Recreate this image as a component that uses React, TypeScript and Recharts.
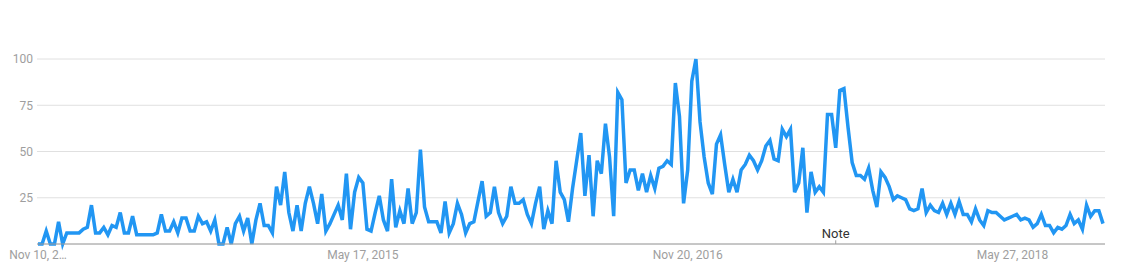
import React from "react";
import { LineChart, Line, XAxis, YAxis, CartesianGrid, ReferenceLine } from "recharts";

// weekly search interest, first week starts Nov 10, 2013
const START_UTC = Date.UTC(2013, 10, 10);
const WEEK_MS = 7 * 24 * 3600 * 1000;

const interest = [
  0, 0, 7, 0, 0, 12, 0, 6, 6, 6, 6, 8, 9, 21, 6, 6, 9, 5, 10, 9,
  17, 6, 6, 15, 5, 5, 5, 5, 5, 6, 16, 7, 7, 12, 6, 14, 14, 7, 7, 15,
  11, 12, 7, 13, 0, 0, 9, 0, 11, 15, 7, 14, 0, 13, 22, 10, 10, 6, 31, 21,
  39, 17, 7, 21, 7, 22, 31, 22, 11, 27, 7, 11, 16, 21, 13, 38, 8, 28, 36, 33,
  8, 7, 17, 26, 13, 7, 35, 9, 18, 11, 30, 11, 17, 51, 20, 12, 12, 12, 6, 23,
  6, 11, 22, 16, 6, 11, 12, 23, 34, 15, 17, 31, 17, 11, 15, 31, 22, 22, 24, 16,
  11, 22, 31, 8, 18, 11, 45, 28, 24, 12, 30, 45, 60, 26, 48, 15, 45, 38, 65, 47,
  15, 82, 78, 33, 40, 40, 29, 38, 28, 37, 30, 41, 42, 45, 43, 87, 69, 22, 40, 88,
  100, 66, 47, 33, 27, 54, 59, 43, 28, 35, 28, 40, 43, 48, 45, 40, 45, 53, 56, 46,
  45, 62, 58, 62, 28, 33, 52, 17, 39, 28, 31, 28, 70, 70, 52, 83, 84, 63, 44, 37,
  37, 35, 41, 29, 20, 39, 36, 31, 24, 26, 25, 24, 19, 18, 19, 30, 17, 21, 18, 17,
  22, 16, 22, 16, 23, 16, 16, 12, 19, 13, 10, 18, 17, 17, 15, 13, 14, 15, 16, 13,
  14, 13, 9, 11, 16, 10, 10, 6, 9, 8, 10, 16, 11, 13, 8, 21, 15, 18, 18, 11,
];

const MONTHS = ["Jan", "Feb", "Mar", "Apr", "May", "Jun", "Jul", "Aug", "Sep", "Oct", "Nov", "Dec"];

const fmtDate = (ms: number) => {
  const d = new Date(ms);
  return `${MONTHS[d.getUTCMonth()]} ${d.getUTCDate()}, ${d.getUTCFullYear()}`;
};

const weeks = interest.map((_, i) => fmtDate(START_UTC + i * WEEK_MS));

const xTicks = ["Nov 10, 2013", "May 17, 2015", "Nov 20, 2016", "May 27, 2018"];
const yTicks = [25, 50, 75, 100];
const noteWeek = weeks[194];

const data = weeks.map((week, i) => ({ week, value: interest[i] }));

const FONT = "Roboto, 'Noto Sans', Arial, sans-serif";

export default function App() {
  return (
    <div style={{ position: "absolute", left: 0, top: 0, background: "#fff" }}>
      <LineChart
        width={1121}
        height={276}
        data={data}
        margin={{ top: 59, right: 16, bottom: 0, left: 0 }}
      >
        <CartesianGrid vertical={false} stroke="#e0e0e0" />
        <XAxis
          dataKey="week"
          ticks={xTicks}
          interval={0}
          height={32}
          padding={{ left: 1, right: 2 }}
          axisLine={{ stroke: "#9e9e9e" }}
          tickLine={false}
          tickSize={4}
          tickMargin={2}
          tick={{ fill: "#9e9e9e", fontSize: 12, fontFamily: FONT }}
          tickFormatter={(v: string) => (v === xTicks[0] ? "Nov 10, 2…" : v)}
        />
        <YAxis
          domain={[0, 100]}
          ticks={yTicks}
          width={37}
          axisLine={false}
          tickLine={false}
          tickSize={2}
          tickMargin={2}
          tick={{ fill: "#9e9e9e", fontSize: 12, fontFamily: FONT }}
        />
        <Line
          type="linear"
          dataKey="value"
          stroke="#2196f3"
          strokeWidth={3.5}
          dot={false}
          activeDot={false}
          isAnimationActive={false}
        />
        <ReferenceLine
          segment={[
            { x: noteWeek, y: 0 },
            { x: noteWeek, y: 2 },
          ]}
          stroke="#9e9e9e"
          label={{ value: "Note", position: "top", offset: 2, fill: "#333", fontSize: 13, fontFamily: FONT }}
        />
      </LineChart>
    </div>
  );
}
